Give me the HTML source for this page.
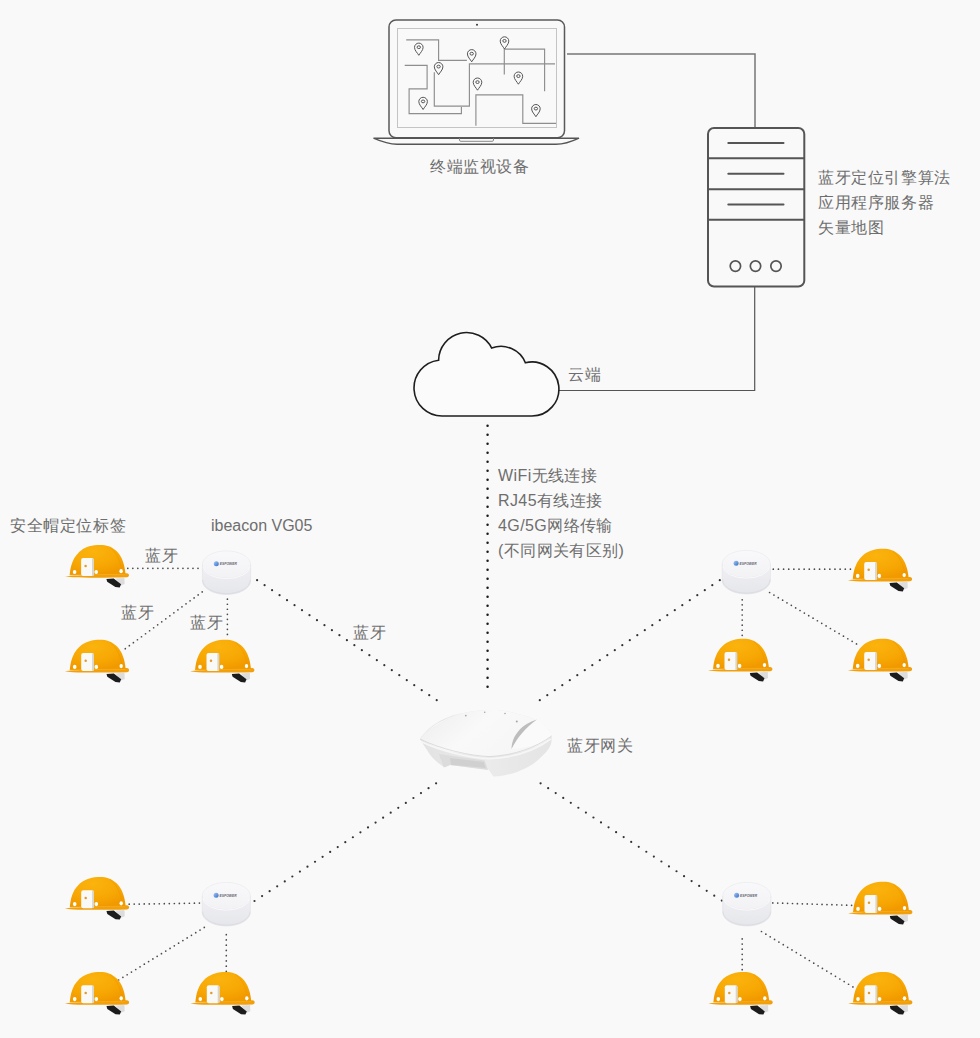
<!DOCTYPE html>
<html><head><meta charset="utf-8">
<style>
html,body{margin:0;padding:0;}
body{width:980px;height:1038px;background:#f9f9f9;position:relative;overflow:hidden;font-family:"Liberation Sans",sans-serif;}
svg.main{position:absolute;left:0;top:0;}
.t{position:absolute;color:#6e6e6e;font-size:16px;letter-spacing:0.6px;line-height:25px;white-space:nowrap;font-weight:300;}
</style></head><body>
<svg class="main" width="980" height="1038" viewBox="0 0 980 1038">
<defs>
  <radialGradient id="hg" cx="0.42" cy="0.22" r="0.75">
    <stop offset="0" stop-color="#fbb30e"/>
    <stop offset="0.65" stop-color="#f7a703"/>
    <stop offset="1" stop-color="#f19a00"/>
  </radialGradient>
  <linearGradient id="bg1" x1="0" y1="0" x2="0" y2="1">
    <stop offset="0" stop-color="#f9f9fb"/>
    <stop offset="1" stop-color="#f2f2f5"/>
  </linearGradient>
  <linearGradient id="bside" x1="0" y1="0" x2="0" y2="1">
    <stop offset="0" stop-color="#f1f1f4"/>
    <stop offset="1" stop-color="#e5e6eb"/>
  </linearGradient>
  <linearGradient id="blogo" x1="0" y1="0" x2="1" y2="1">
    <stop offset="0" stop-color="#a9c6f0"/>
    <stop offset="1" stop-color="#2f6fd0"/>
  </linearGradient>
  <g id="helmet">
    <path d="M50.3 34.4 L59.3 33.8 L59.5 40 L56 41.5 Z" fill="#dcdcdc"/>
    <path d="M41.3 34.9 L48.6 34.4 L56 40.2 L54.6 43.4 L50.3 43 L42.1 37.7 Z" fill="#1c1c1c"/>
    <path d="M-0.3 32.2 C8 31 35 30.6 61.7 29.1 C63.2 29.3 64 30.2 63.9 31.2 C63.8 32.4 62.8 33.2 61.7 33.2 C45 33.7 20 33.8 7.8 33.2 C4 33 1.5 32.7 -0.3 32.2 Z" fill="#f29f0c"/>
    <path d="M4.56 31.00 C4.70 29.95 4.99 26.72 5.40 24.70 C5.81 22.68 6.18 20.95 7.00 18.90 C7.82 16.85 8.80 14.50 10.30 12.40 C11.80 10.30 13.68 8.00 16.00 6.30 C18.32 4.60 21.07 3.12 24.20 2.20 C27.33 1.28 31.55 0.80 34.80 0.80 C38.05 0.80 40.98 1.22 43.70 2.20 C46.42 3.18 49.05 4.87 51.10 6.70 C53.15 8.53 54.72 10.88 56.00 13.20 C57.28 15.52 58.12 18.28 58.80 20.60 C59.48 22.92 59.82 25.37 60.10 27.10 C60.38 28.83 60.43 30.35 60.50 31.00 Z" fill="url(#hg)"/>
    <path d="M45 3.5 C51.5 8.5 56 17 57.3 30.5" stroke="#ea9200" stroke-width="0.9" fill="none" opacity="0.5"/>
    <path d="M4.8 31.2 C20 30.5 45 30.2 60.3 30.6" stroke="#fbbd3a" stroke-width="0.8" fill="none" opacity="0.6"/>
    <rect x="16" y="14" width="12.6" height="18" rx="2" fill="#f9f9f7"/>
    <rect x="26.9" y="14.6" width="1.8" height="17.2" fill="#d8d5ce"/>
    <circle cx="20.5" cy="21.8" r="1.25" fill="#e39a2a"/>
    <ellipse cx="9.5" cy="27.9" rx="1.8" ry="2.1" fill="#fff"/>
    <ellipse cx="31.1" cy="27.9" rx="1.8" ry="2.1" fill="#fff"/>
    <ellipse cx="56" cy="27.1" rx="1.7" ry="2.1" fill="#fff"/>
  </g>
  <g id="beacon">
    <path d="M0.4 14 L0.4 30.4 A24.1 13.6 0 0 0 48.6 30.4 L48.6 14 Z" fill="url(#bside)" stroke="#dcdde2" stroke-width="0.5"/>
    <path d="M0.8 29.5 A23.7 13.6 0 0 0 48.2 29.5" fill="none" stroke="#d6d7dc" stroke-width="0.9" opacity="0.7"/>
    <ellipse cx="24.5" cy="14" rx="24.1" ry="13.6" fill="url(#bg1)" stroke="#e3e4e9" stroke-width="0.5"/>
    <path d="M1 16.5 A23.6 12.8 0 0 0 48 16.5" fill="none" stroke="#fbfbfd" stroke-width="0.9"/>
    <circle cx="14.3" cy="13.2" r="2.5" fill="url(#blogo)"/>
    <text x="17.8" y="14.9" font-family="Liberation Sans" font-size="4.4" font-weight="bold" font-style="italic" fill="#2e3140" textLength="17" lengthAdjust="spacingAndGlyphs" opacity="0.75">ESPOWER</text>
  </g>
</defs>

<!-- laptop -->
<g fill="none" stroke-linecap="butt">
  <rect x="389" y="20" width="175.5" height="117.8" rx="7" stroke="#595959" stroke-width="1.5"/>
  <rect x="397.5" y="28.5" width="159" height="99" stroke="#c4c4c4" stroke-width="1"/>
  <path d="M373.5 138.2 L579 138.2 C572 141.5 565 144.3 556 144.3 L397 144.3 C388 144.3 381 141.5 373.5 138.2 Z" stroke="#555" stroke-width="1.4"/>
  <path d="M459.5 138.2 L459.5 140.2 Q459.5 141.3 461 141.3 L492 141.3 Q493.5 141.3 493.5 140.2 L493.5 138.2" stroke="#888" stroke-width="1"/>
  <g stroke="#8e8e8e" stroke-width="1.15">
    <path d="M406.2 39.9 H438.6 V60.3 H466.9"/>
    <path d="M404.7 65.4 H427.1 V88.9 H409.1 V113.6 H461.4 V106.9"/>
    <path d="M434.3 72.2 V106.1 H469.4 V63.9 H555"/>
    <path d="M504.3 74.4 V49.1 H544.6 V91.2"/>
    <path d="M475.9 125.7 V94.9 H522.8 V123.3 H556"/>
  </g>
</g>
<circle cx="477" cy="24.8" r="1" fill="#333"/>
<g fill="#f9f9f9" stroke="#555" stroke-width="1"><path d="M418.80 55.30 C417.60 53.10 414.50 50.40 414.50 47.40 A4.3 4.3 0 0 1 423.10 47.40 C423.10 50.40 420.00 53.10 418.80 55.30 Z" /><ellipse cx="418.80" cy="47.20" rx="1.7" ry="1.4"/><path d="M438.60 74.70 C437.40 72.50 434.30 69.80 434.30 66.80 A4.3 4.3 0 0 1 442.90 66.80 C442.90 69.80 439.80 72.50 438.60 74.70 Z" /><ellipse cx="438.60" cy="66.60" rx="1.7" ry="1.4"/><path d="M471.70 61.80 C470.50 59.60 467.40 56.90 467.40 53.90 A4.3 4.3 0 0 1 476.00 53.90 C476.00 56.90 472.90 59.60 471.70 61.80 Z" /><ellipse cx="471.70" cy="53.70" rx="1.7" ry="1.4"/><path d="M423.10 109.50 C421.90 107.30 418.80 104.60 418.80 101.60 A4.3 4.3 0 0 1 427.40 101.60 C427.40 104.60 424.30 107.30 423.10 109.50 Z" /><ellipse cx="423.10" cy="101.40" rx="1.7" ry="1.4"/><path d="M477.50 90.20 C476.30 88.00 473.20 85.30 473.20 82.30 A4.3 4.3 0 0 1 481.80 82.30 C481.80 85.30 478.70 88.00 477.50 90.20 Z" /><ellipse cx="477.50" cy="82.10" rx="1.7" ry="1.4"/><path d="M504.50 49.00 C503.30 46.80 500.20 44.10 500.20 41.10 A4.3 4.3 0 0 1 508.80 41.10 C508.80 44.10 505.70 46.80 504.50 49.00 Z" /><ellipse cx="504.50" cy="40.90" rx="1.7" ry="1.4"/><path d="M518.40 84.20 C517.20 82.00 514.10 79.30 514.10 76.30 A4.3 4.3 0 0 1 522.70 76.30 C522.70 79.30 519.60 82.00 518.40 84.20 Z" /><ellipse cx="518.40" cy="76.10" rx="1.7" ry="1.4"/><path d="M535.90 116.70 C534.70 114.50 531.60 111.80 531.60 108.80 A4.3 4.3 0 0 1 540.20 108.80 C540.20 111.80 537.10 114.50 535.90 116.70 Z" /><ellipse cx="535.90" cy="108.60" rx="1.7" ry="1.4"/></g>

<!-- connection lines -->
<path d="M567 53.9 H755 V127.5" fill="none" stroke="#777" stroke-width="1.5"/>
<path d="M559 390.5 H754.7 V286.5" fill="none" stroke="#555" stroke-width="1.2"/>

<!-- server -->
<g fill="none" stroke="#555" stroke-width="2">
  <rect x="708" y="128" width="96.3" height="158.5" rx="6"/>
  <path d="M708 158.2 H804.3 M708 189.2 H804.3 M708 219.8 H804.3"/>
  <path d="M728.3 143.1 H783.5 M728.3 173.7 H783.5 M728.3 204.4 H783.5" stroke-linecap="round"/>
  <g stroke-width="1.7"><circle cx="735.4" cy="266.1" r="5.2"/>
  <circle cx="755.5" cy="266.1" r="5.2"/>
  <circle cx="776" cy="266.1" r="5.2"/></g>
</g>

<!-- cloud -->
<path d="M531.90 416 L442.00 416 A28 28 0 0 1 438.60 360.21 A28 28 0 0 1 491.70 348.10 A26.3 26.3 0 0 1 525.37 362.80 A27 27 0 1 1 531.90 416.00 Z" fill="#fbfbfb" stroke="#1e1e1e" stroke-width="1.6"/>

<!-- dotted lines -->
<g fill="#1a1a1a"><circle cx="487.55" cy="425.80" r="1.25"/><circle cx="487.55" cy="434.80" r="1.25"/><circle cx="487.55" cy="443.80" r="1.25"/><circle cx="487.55" cy="452.80" r="1.25"/><circle cx="487.55" cy="461.80" r="1.25"/><circle cx="487.55" cy="470.80" r="1.25"/><circle cx="487.55" cy="479.80" r="1.25"/><circle cx="487.55" cy="488.80" r="1.25"/><circle cx="487.55" cy="497.80" r="1.25"/><circle cx="487.55" cy="506.80" r="1.25"/><circle cx="487.55" cy="515.80" r="1.25"/><circle cx="487.55" cy="524.80" r="1.25"/><circle cx="487.55" cy="533.80" r="1.25"/><circle cx="487.55" cy="542.80" r="1.25"/><circle cx="487.55" cy="551.80" r="1.25"/><circle cx="487.55" cy="560.80" r="1.25"/><circle cx="487.55" cy="569.80" r="1.25"/><circle cx="487.55" cy="578.80" r="1.25"/><circle cx="487.55" cy="587.80" r="1.25"/><circle cx="487.55" cy="596.80" r="1.25"/><circle cx="487.55" cy="605.80" r="1.25"/><circle cx="487.55" cy="614.80" r="1.25"/><circle cx="487.55" cy="623.80" r="1.25"/><circle cx="487.55" cy="632.80" r="1.25"/><circle cx="487.55" cy="641.80" r="1.25"/><circle cx="487.55" cy="650.80" r="1.25"/><circle cx="487.55" cy="659.80" r="1.25"/><circle cx="487.55" cy="668.80" r="1.25"/><circle cx="487.55" cy="677.80" r="1.25"/><circle cx="487.55" cy="686.80" r="1.25"/></g>
<g fill="#333"><circle cx="257.10" cy="580.20" r="1.1"/><circle cx="264.58" cy="585.20" r="1.1"/><circle cx="272.07" cy="590.20" r="1.1"/><circle cx="279.55" cy="595.20" r="1.1"/><circle cx="287.03" cy="600.20" r="1.1"/><circle cx="294.52" cy="605.20" r="1.1"/><circle cx="302.00" cy="610.20" r="1.1"/><circle cx="309.48" cy="615.20" r="1.1"/><circle cx="316.97" cy="620.20" r="1.1"/><circle cx="324.45" cy="625.20" r="1.1"/><circle cx="331.93" cy="630.20" r="1.1"/><circle cx="339.42" cy="635.20" r="1.1"/><circle cx="346.90" cy="640.20" r="1.1"/><circle cx="354.38" cy="645.20" r="1.1"/><circle cx="361.87" cy="650.20" r="1.1"/><circle cx="369.35" cy="655.20" r="1.1"/><circle cx="376.83" cy="660.20" r="1.1"/><circle cx="384.32" cy="665.20" r="1.1"/><circle cx="391.80" cy="670.20" r="1.1"/><circle cx="399.28" cy="675.20" r="1.1"/><circle cx="406.77" cy="680.20" r="1.1"/><circle cx="414.25" cy="685.20" r="1.1"/><circle cx="421.73" cy="690.20" r="1.1"/><circle cx="429.22" cy="695.20" r="1.1"/><circle cx="436.70" cy="700.20" r="1.1"/></g>
<g fill="#333"><circle cx="719.80" cy="580.20" r="1.1"/><circle cx="712.30" cy="585.20" r="1.1"/><circle cx="704.80" cy="590.20" r="1.1"/><circle cx="697.30" cy="595.20" r="1.1"/><circle cx="689.80" cy="600.20" r="1.1"/><circle cx="682.30" cy="605.20" r="1.1"/><circle cx="674.80" cy="610.20" r="1.1"/><circle cx="667.30" cy="615.20" r="1.1"/><circle cx="659.80" cy="620.20" r="1.1"/><circle cx="652.30" cy="625.20" r="1.1"/><circle cx="644.80" cy="630.20" r="1.1"/><circle cx="637.30" cy="635.20" r="1.1"/><circle cx="629.80" cy="640.20" r="1.1"/><circle cx="622.30" cy="645.20" r="1.1"/><circle cx="614.80" cy="650.20" r="1.1"/><circle cx="607.30" cy="655.20" r="1.1"/><circle cx="599.80" cy="660.20" r="1.1"/><circle cx="592.30" cy="665.20" r="1.1"/><circle cx="584.80" cy="670.20" r="1.1"/><circle cx="577.30" cy="675.20" r="1.1"/><circle cx="569.80" cy="680.20" r="1.1"/><circle cx="562.30" cy="685.20" r="1.1"/><circle cx="554.80" cy="690.20" r="1.1"/><circle cx="547.30" cy="695.20" r="1.1"/><circle cx="539.80" cy="700.20" r="1.1"/></g>
<g fill="#333"><circle cx="436.10" cy="783.30" r="1.1"/><circle cx="428.53" cy="788.20" r="1.1"/><circle cx="420.97" cy="793.11" r="1.1"/><circle cx="413.40" cy="798.01" r="1.1"/><circle cx="405.83" cy="802.92" r="1.1"/><circle cx="398.27" cy="807.82" r="1.1"/><circle cx="390.70" cy="812.72" r="1.1"/><circle cx="383.13" cy="817.63" r="1.1"/><circle cx="375.57" cy="822.53" r="1.1"/><circle cx="368.00" cy="827.44" r="1.1"/><circle cx="360.43" cy="832.34" r="1.1"/><circle cx="352.87" cy="837.25" r="1.1"/><circle cx="345.30" cy="842.15" r="1.1"/><circle cx="337.73" cy="847.05" r="1.1"/><circle cx="330.17" cy="851.96" r="1.1"/><circle cx="322.60" cy="856.86" r="1.1"/><circle cx="315.03" cy="861.77" r="1.1"/><circle cx="307.47" cy="866.67" r="1.1"/><circle cx="299.90" cy="871.58" r="1.1"/><circle cx="292.33" cy="876.48" r="1.1"/><circle cx="284.77" cy="881.38" r="1.1"/><circle cx="277.20" cy="886.29" r="1.1"/><circle cx="269.63" cy="891.19" r="1.1"/><circle cx="262.07" cy="896.10" r="1.1"/><circle cx="254.50" cy="901.00" r="1.1"/></g>
<g fill="#333"><circle cx="540.60" cy="783.30" r="1.1"/><circle cx="548.15" cy="788.19" r="1.1"/><circle cx="555.70" cy="793.07" r="1.1"/><circle cx="563.25" cy="797.96" r="1.1"/><circle cx="570.80" cy="802.85" r="1.1"/><circle cx="578.35" cy="807.74" r="1.1"/><circle cx="585.90" cy="812.62" r="1.1"/><circle cx="593.45" cy="817.51" r="1.1"/><circle cx="601.00" cy="822.40" r="1.1"/><circle cx="608.55" cy="827.29" r="1.1"/><circle cx="616.10" cy="832.17" r="1.1"/><circle cx="623.65" cy="837.06" r="1.1"/><circle cx="631.20" cy="841.95" r="1.1"/><circle cx="638.75" cy="846.84" r="1.1"/><circle cx="646.30" cy="851.73" r="1.1"/><circle cx="653.85" cy="856.61" r="1.1"/><circle cx="661.40" cy="861.50" r="1.1"/><circle cx="668.95" cy="866.39" r="1.1"/><circle cx="676.50" cy="871.27" r="1.1"/><circle cx="684.05" cy="876.16" r="1.1"/><circle cx="691.60" cy="881.05" r="1.1"/><circle cx="699.15" cy="885.94" r="1.1"/><circle cx="706.70" cy="890.83" r="1.1"/><circle cx="714.25" cy="895.71" r="1.1"/><circle cx="721.80" cy="900.60" r="1.1"/></g>
<g fill="#4a4a4a"><circle cx="127.80" cy="568.30" r="0.85"/><circle cx="132.81" cy="568.30" r="0.85"/><circle cx="137.83" cy="568.30" r="0.85"/><circle cx="142.84" cy="568.30" r="0.85"/><circle cx="147.86" cy="568.30" r="0.85"/><circle cx="152.87" cy="568.30" r="0.85"/><circle cx="157.89" cy="568.30" r="0.85"/><circle cx="162.90" cy="568.30" r="0.85"/><circle cx="167.91" cy="568.30" r="0.85"/><circle cx="172.93" cy="568.30" r="0.85"/><circle cx="177.94" cy="568.30" r="0.85"/><circle cx="182.96" cy="568.30" r="0.85"/><circle cx="187.97" cy="568.30" r="0.85"/><circle cx="192.99" cy="568.30" r="0.85"/><circle cx="198.00" cy="568.30" r="0.85"/></g>
<g fill="#4a4a4a"><circle cx="202.20" cy="591.90" r="0.85"/><circle cx="198.15" cy="594.89" r="0.85"/><circle cx="194.11" cy="597.88" r="0.85"/><circle cx="190.06" cy="600.87" r="0.85"/><circle cx="186.01" cy="603.86" r="0.85"/><circle cx="181.96" cy="606.85" r="0.85"/><circle cx="177.92" cy="609.84" r="0.85"/><circle cx="173.87" cy="612.83" r="0.85"/><circle cx="169.82" cy="615.82" r="0.85"/><circle cx="165.77" cy="618.81" r="0.85"/><circle cx="161.73" cy="621.79" r="0.85"/><circle cx="157.68" cy="624.78" r="0.85"/><circle cx="153.63" cy="627.77" r="0.85"/><circle cx="149.58" cy="630.76" r="0.85"/><circle cx="145.54" cy="633.75" r="0.85"/><circle cx="141.49" cy="636.74" r="0.85"/><circle cx="137.44" cy="639.73" r="0.85"/><circle cx="133.39" cy="642.72" r="0.85"/><circle cx="129.35" cy="645.71" r="0.85"/><circle cx="125.30" cy="648.70" r="0.85"/></g>
<g fill="#4a4a4a"><circle cx="227.40" cy="599.20" r="0.85"/><circle cx="227.40" cy="604.23" r="0.85"/><circle cx="227.40" cy="609.26" r="0.85"/><circle cx="227.40" cy="614.29" r="0.85"/><circle cx="227.40" cy="619.31" r="0.85"/><circle cx="227.40" cy="624.34" r="0.85"/><circle cx="227.40" cy="629.37" r="0.85"/><circle cx="227.40" cy="634.40" r="0.85"/></g>
<g fill="#4a4a4a"><circle cx="773.30" cy="569.20" r="0.85"/><circle cx="778.44" cy="569.20" r="0.85"/><circle cx="783.58" cy="569.20" r="0.85"/><circle cx="788.72" cy="569.20" r="0.85"/><circle cx="793.86" cy="569.20" r="0.85"/><circle cx="799.00" cy="569.20" r="0.85"/><circle cx="804.14" cy="569.20" r="0.85"/><circle cx="809.28" cy="569.20" r="0.85"/><circle cx="814.42" cy="569.20" r="0.85"/><circle cx="819.56" cy="569.20" r="0.85"/><circle cx="824.70" cy="569.20" r="0.85"/><circle cx="829.84" cy="569.20" r="0.85"/><circle cx="834.98" cy="569.20" r="0.85"/><circle cx="840.12" cy="569.20" r="0.85"/><circle cx="845.26" cy="569.20" r="0.85"/><circle cx="850.40" cy="569.20" r="0.85"/></g>
<g fill="#4a4a4a"><circle cx="769.60" cy="592.50" r="0.85"/><circle cx="773.95" cy="595.07" r="0.85"/><circle cx="778.29" cy="597.64" r="0.85"/><circle cx="782.63" cy="600.21" r="0.85"/><circle cx="786.98" cy="602.78" r="0.85"/><circle cx="791.33" cy="605.35" r="0.85"/><circle cx="795.67" cy="607.92" r="0.85"/><circle cx="800.01" cy="610.49" r="0.85"/><circle cx="804.36" cy="613.06" r="0.85"/><circle cx="808.71" cy="615.63" r="0.85"/><circle cx="813.05" cy="618.20" r="0.85"/><circle cx="817.39" cy="620.77" r="0.85"/><circle cx="821.74" cy="623.34" r="0.85"/><circle cx="826.09" cy="625.91" r="0.85"/><circle cx="830.43" cy="628.48" r="0.85"/><circle cx="834.77" cy="631.05" r="0.85"/><circle cx="839.12" cy="633.62" r="0.85"/><circle cx="843.47" cy="636.19" r="0.85"/><circle cx="847.81" cy="638.76" r="0.85"/><circle cx="852.15" cy="641.33" r="0.85"/><circle cx="856.50" cy="643.90" r="0.85"/></g>
<g fill="#4a4a4a"><circle cx="742.20" cy="599.80" r="0.85"/><circle cx="742.20" cy="604.87" r="0.85"/><circle cx="742.20" cy="609.94" r="0.85"/><circle cx="742.20" cy="615.01" r="0.85"/><circle cx="742.20" cy="620.09" r="0.85"/><circle cx="742.20" cy="625.16" r="0.85"/><circle cx="742.20" cy="630.23" r="0.85"/><circle cx="742.20" cy="635.30" r="0.85"/></g>
<g fill="#4a4a4a"><circle cx="129.20" cy="904.20" r="0.85"/><circle cx="134.21" cy="904.12" r="0.85"/><circle cx="139.23" cy="904.04" r="0.85"/><circle cx="144.24" cy="903.96" r="0.85"/><circle cx="149.26" cy="903.89" r="0.85"/><circle cx="154.27" cy="903.81" r="0.85"/><circle cx="159.29" cy="903.73" r="0.85"/><circle cx="164.30" cy="903.65" r="0.85"/><circle cx="169.31" cy="903.57" r="0.85"/><circle cx="174.33" cy="903.49" r="0.85"/><circle cx="179.34" cy="903.41" r="0.85"/><circle cx="184.36" cy="903.34" r="0.85"/><circle cx="189.37" cy="903.26" r="0.85"/><circle cx="194.39" cy="903.18" r="0.85"/><circle cx="199.40" cy="903.10" r="0.85"/></g>
<g fill="#4a4a4a"><circle cx="204.30" cy="927.40" r="0.85"/><circle cx="200.02" cy="930.03" r="0.85"/><circle cx="195.73" cy="932.66" r="0.85"/><circle cx="191.45" cy="935.29" r="0.85"/><circle cx="187.16" cy="937.92" r="0.85"/><circle cx="182.88" cy="940.55" r="0.85"/><circle cx="178.59" cy="943.18" r="0.85"/><circle cx="174.31" cy="945.81" r="0.85"/><circle cx="170.02" cy="948.44" r="0.85"/><circle cx="165.74" cy="951.07" r="0.85"/><circle cx="161.45" cy="953.70" r="0.85"/><circle cx="157.16" cy="956.33" r="0.85"/><circle cx="152.88" cy="958.96" r="0.85"/><circle cx="148.59" cy="961.59" r="0.85"/><circle cx="144.31" cy="964.22" r="0.85"/><circle cx="140.03" cy="966.85" r="0.85"/><circle cx="135.74" cy="969.48" r="0.85"/><circle cx="131.45" cy="972.11" r="0.85"/><circle cx="127.17" cy="974.74" r="0.85"/><circle cx="122.89" cy="977.37" r="0.85"/><circle cx="118.60" cy="980.00" r="0.85"/></g>
<g fill="#4a4a4a"><circle cx="226.30" cy="934.70" r="0.85"/><circle cx="226.30" cy="939.94" r="0.85"/><circle cx="226.30" cy="945.19" r="0.85"/><circle cx="226.30" cy="950.43" r="0.85"/><circle cx="226.30" cy="955.67" r="0.85"/><circle cx="226.30" cy="960.91" r="0.85"/><circle cx="226.30" cy="966.16" r="0.85"/><circle cx="226.30" cy="971.40" r="0.85"/></g>
<g fill="#4a4a4a"><circle cx="772.80" cy="902.90" r="0.85"/><circle cx="777.72" cy="903.05" r="0.85"/><circle cx="782.65" cy="903.20" r="0.85"/><circle cx="787.57" cy="903.35" r="0.85"/><circle cx="792.50" cy="903.50" r="0.85"/><circle cx="797.42" cy="903.65" r="0.85"/><circle cx="802.35" cy="903.80" r="0.85"/><circle cx="807.27" cy="903.95" r="0.85"/><circle cx="812.20" cy="904.10" r="0.85"/><circle cx="817.12" cy="904.25" r="0.85"/><circle cx="822.05" cy="904.40" r="0.85"/><circle cx="826.98" cy="904.55" r="0.85"/><circle cx="831.90" cy="904.70" r="0.85"/><circle cx="836.83" cy="904.85" r="0.85"/><circle cx="841.75" cy="905.00" r="0.85"/><circle cx="846.67" cy="905.15" r="0.85"/><circle cx="851.60" cy="905.30" r="0.85"/></g>
<g fill="#4a4a4a"><circle cx="761.50" cy="931.50" r="0.85"/><circle cx="765.85" cy="934.14" r="0.85"/><circle cx="770.20" cy="936.78" r="0.85"/><circle cx="774.56" cy="939.41" r="0.85"/><circle cx="778.91" cy="942.05" r="0.85"/><circle cx="783.26" cy="944.69" r="0.85"/><circle cx="787.61" cy="947.33" r="0.85"/><circle cx="791.97" cy="949.97" r="0.85"/><circle cx="796.32" cy="952.60" r="0.85"/><circle cx="800.67" cy="955.24" r="0.85"/><circle cx="805.02" cy="957.88" r="0.85"/><circle cx="809.38" cy="960.52" r="0.85"/><circle cx="813.73" cy="963.16" r="0.85"/><circle cx="818.08" cy="965.80" r="0.85"/><circle cx="822.43" cy="968.43" r="0.85"/><circle cx="826.79" cy="971.07" r="0.85"/><circle cx="831.14" cy="973.71" r="0.85"/><circle cx="835.49" cy="976.35" r="0.85"/><circle cx="839.84" cy="978.99" r="0.85"/><circle cx="844.20" cy="981.62" r="0.85"/><circle cx="848.55" cy="984.26" r="0.85"/><circle cx="852.90" cy="986.90" r="0.85"/></g>
<g fill="#4a4a4a"><circle cx="742.20" cy="938.90" r="0.85"/><circle cx="742.20" cy="944.03" r="0.85"/><circle cx="742.20" cy="949.17" r="0.85"/><circle cx="742.20" cy="954.30" r="0.85"/><circle cx="742.20" cy="959.43" r="0.85"/><circle cx="742.20" cy="964.57" r="0.85"/><circle cx="742.20" cy="969.70" r="0.85"/></g>

<!-- gateway -->
<g id="gateway">
  <defs>
    <linearGradient id="gwtop" x1="0" y1="0.3" x2="1" y2="0.7">
      <stop offset="0" stop-color="#efefef"/>
      <stop offset="0.4" stop-color="#f9f9f9"/>
      <stop offset="1" stop-color="#f5f5f5"/>
    </linearGradient>
    <linearGradient id="gwside" x1="0" y1="0" x2="1" y2="0">
      <stop offset="0" stop-color="#e2e2e2"/>
      <stop offset="0.5" stop-color="#ebebeb"/>
      <stop offset="1" stop-color="#e4e4e4"/>
    </linearGradient>
  </defs>
  <path d="M420 739 C420.9 738.0 421.9 735.6 425.3 732.9 C428.7 730.2 435.5 725.9 440.6 723.0 C445.7 720.1 450.8 717.2 455.9 715.3 C461.0 713.4 466.1 712.4 471.2 711.5 C476.3 710.6 481.4 710.2 486.5 710.0 C491.6 709.8 496.7 709.8 501.8 710.4 C506.9 711.0 511.9 712.5 517.0 713.8 C522.1 715.1 528.1 716.6 532.5 718.4 C536.9 720.2 540.4 722.5 543.2 724.5 C546.0 726.5 547.9 728.7 549.3 730.6 C550.7 732.5 551.2 735.1 551.6 736.0 C551.5 737.4 551.9 741.5 550.8 744.4 C549.6 747.3 547.8 750.3 544.7 753.6 C541.7 756.9 537.1 761.2 532.5 764.3 C527.9 767.3 522.2 770.0 517.1 771.9 C512.0 773.8 505.8 775.0 501.8 775.8 C497.9 776.6 494.8 776.4 493.4 776.5 L488.5 769.5 L450 765 L445.2 767.3 C444.7 767.0 444.1 767.3 442.1 765.8 C440.1 764.3 435.8 761.2 433.0 758.2 C430.2 755.2 427.5 750.7 425.3 747.5 C423.1 744.3 420.9 740.4 420.0 739.0 Z" fill="url(#gwside)"/>
  <path d="M420 739 C420.9 738.0 421.9 735.6 425.3 732.9 C428.7 730.2 435.5 725.9 440.6 723.0 C445.7 720.1 450.8 717.2 455.9 715.3 C461.0 713.4 466.1 712.4 471.2 711.5 C476.3 710.6 481.4 710.2 486.5 710.0 C491.6 709.8 496.7 709.8 501.8 710.4 C506.9 711.0 511.9 712.5 517.0 713.8 C522.1 715.1 528.1 716.6 532.5 718.4 C536.9 720.2 540.4 722.5 543.2 724.5 C546.0 726.5 547.9 728.7 549.3 730.6 C550.7 732.5 551.2 735.1 551.6 736.0 C549.7 737.4 545.8 741.6 540.0 744.4 C534.2 747.2 525.5 750.8 517.1 752.8 C508.7 754.8 497.2 756.2 489.6 756.6 C482.0 757.0 479.4 756.4 471.2 755.1 C463.0 753.8 449.1 751.7 440.6 749.0 C432.1 746.3 423.4 740.7 420.0 739.0 Z" fill="url(#gwtop)"/>
  <path d="M420 739 C428 728 442 719 462.5 713.1 C446 716 428 726 420 739 Z" fill="#e6e6e6"/>
  <path d="M537 719.5 C541 722 546 726 549.3 730.6 C551 733 551.6 735 551.6 736 C545 742 530 748.5 511.5 749 C517 738 526 727 537 719.5 Z" fill="#fafafa"/>
  <path d="M537 719.5 C522 724 512 735 511.5 749 C517 738 526 727 537 719.5 Z" fill="#bdbdbd"/>
  <path d="M421 741.5 C440 751 470 758.3 490 758.8 C515 757.5 535 750.5 550.8 739" fill="none" stroke="#f6f6f6" stroke-width="1.6"/>
  <path d="M420 739 C440 749 470 756 490 756.6 C515 755 535 748 551.6 736" fill="none" stroke="#d6d6d6" stroke-width="0.8"/>
  <path d="M438.8 754 L484.6 760.6 L488 770 L450 765 L443.7 767.5 Z" fill="#dcdcdc"/>
  <path d="M450 758 L483.8 762 L485.8 768 L451 764.7 Z" fill="#d0d0d0"/>
  <g fill="#a8a8a8"><circle cx="465.8" cy="715.6" r="0.9"/><circle cx="484.7" cy="712.2" r="0.8"/><circle cx="505" cy="713.5" r="0.8"/><circle cx="516.8" cy="721.4" r="1"/></g>
</g>

<!-- helmets -->
<use href="#helmet" x="65.1" y="544.1"/>
<use href="#helmet" x="65.2" y="639"/>
<use href="#helmet" x="190.5" y="639"/>
<use href="#helmet" x="848.2" y="548"/>
<use href="#helmet" x="708.5" y="638"/>
<use href="#helmet" x="848.2" y="638"/>
<use href="#helmet" x="65.2" y="876.2"/>
<use href="#helmet" x="65.2" y="971.2"/>
<use href="#helmet" x="190.8" y="971.2"/>
<use href="#helmet" x="848.5" y="881"/>
<use href="#helmet" x="708.8" y="971.2"/>
<use href="#helmet" x="848.5" y="971.2"/>
<!-- beacons -->
<use href="#beacon" x="202" y="550.5"/>
<use href="#beacon" x="721.8" y="550"/>
<use href="#beacon" x="201.8" y="882"/>
<use href="#beacon" x="722.3" y="882"/>
<g font-family="Liberation Sans, sans-serif" font-size="16" fill="#6e6e6e">
<text x="430" y="172" textLength="99.00" lengthAdjust="spacing">终端监视设备</text>
<text x="818" y="183" textLength="132.20" lengthAdjust="spacing">蓝牙定位引擎算法</text>
<text x="818" y="208" textLength="115.60" lengthAdjust="spacing">应用程序服务器</text>
<text x="818" y="233" textLength="65.80" lengthAdjust="spacing">矢量地图</text>
<text x="568" y="380" textLength="32.60" lengthAdjust="spacing">云端</text>
<text x="498" y="481" textLength="98.78" lengthAdjust="spacing">WiFi无线连接</text>
<text x="498" y="506" textLength="104.16" lengthAdjust="spacing">RJ45有线连接</text>
<text x="498" y="531" textLength="114.34" lengthAdjust="spacing">4G/5G网络传输</text>
<text x="498" y="556" textLength="125.86" lengthAdjust="spacing">(不同网关有区别)</text>
<text x="10" y="531" textLength="115.60" lengthAdjust="spacing">安全帽定位标签</text>
<text x="145" y="561" textLength="32.60" lengthAdjust="spacing">蓝牙</text>
<text x="121" y="618" textLength="32.60" lengthAdjust="spacing">蓝牙</text>
<text x="190" y="628" textLength="32.60" lengthAdjust="spacing">蓝牙</text>
<text x="353" y="638" textLength="32.60" lengthAdjust="spacing">蓝牙</text>
<text x="567" y="751" textLength="65.80" lengthAdjust="spacing">蓝牙网关</text>
<text x="211" y="531">ibeacon VG05</text>
</g>
</svg>

</body></html>
